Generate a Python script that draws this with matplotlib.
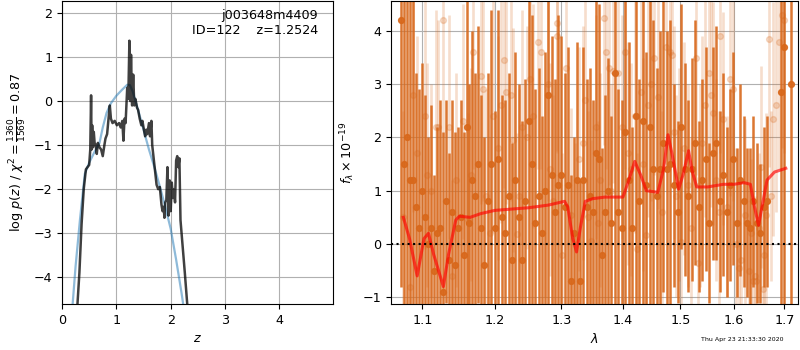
import numpy as np
import matplotlib
matplotlib.use('Agg')
import matplotlib.pyplot as plt

plt.rcParams['font.size'] = 9.2

# p(z) curves
z_pz = [0.28, 0.32, 0.36, 0.40, 0.44, 0.47, 0.50, 0.52, 0.535, 0.545, 0.555, 0.57, 0.585,
        0.60, 0.62, 0.64, 0.66, 0.69, 0.72, 0.75, 0.78, 0.80, 0.83, 0.86, 0.88, 0.90,
        0.93, 0.97, 1.01, 1.05, 1.08, 1.11, 1.13, 1.15, 1.17, 1.20, 1.22, 1.24, 1.255,
        1.27, 1.29, 1.31, 1.33, 1.35, 1.38, 1.40, 1.43, 1.46, 1.48, 1.50, 1.53, 1.55,
        1.57, 1.60, 1.62, 1.645, 1.66, 1.70, 1.74, 1.77, 1.80, 1.83, 1.85, 1.87, 1.885,
        1.90, 1.92, 1.94, 1.96, 1.98, 2.00, 2.02, 2.04, 2.06, 2.08, 2.10, 2.12, 2.14,
        2.16, 2.18, 2.22, 2.26, 2.31]
logp = [-4.7, -3.9, -2.8, -2.0, -1.55, -1.5, -1.45, -1.1, 0.13, -1.1, -0.55, -1.05, -0.7,
        -0.95, -1.0, -1.2, -0.95, -1.05, -1.1, -1.25, -1.0, -0.85, -0.75, -0.35, -0.1, -0.4,
        -0.5, -0.45, -0.55, -0.5, -0.6, -0.45, -0.9, -0.4, -0.5, 0.3, 0.05, 1.37, 0.0,
        1.05, -0.1, 0.6, -0.1, 0.05, -0.15, -0.2, -0.4, -0.55, -0.45, -0.6, -0.8, -0.65,
        -0.75, -0.5, -0.8, -0.45, -1.0, -1.45, -1.9, -2.0, -1.95, -2.35, -2.5, -2.4, -2.65,
        -2.3, -2.25, -1.5, -2.6, -1.8, -2.5, -1.85, -2.2, -2.0, -2.3, -1.35, -1.25, -1.5,
        -1.3, -2.7, -3.3, -3.9, -4.7]
z_prior = [0.19, 0.25, 0.33, 0.42, 0.50, 0.60, 0.69, 0.75, 0.82, 0.90, 1.00, 1.10, 1.20,
           1.25, 1.30, 1.40, 1.50, 1.60, 1.70, 1.80, 1.90, 2.00, 2.10, 2.20, 2.24]
logp_prior = [-4.7, -3.75, -2.7, -1.65, -1.4, -1.15, -0.95, -0.6, -0.27, -0.05, 0.12, 0.25, 0.37,
              0.36, 0.22, -0.2, -0.65, -1.1, -1.5, -1.94, -2.4, -2.9, -3.6, -4.36, -4.7]

# spectrum, binned (dark) points
dark_wave = [1.072, 1.076, 1.080, 1.084, 1.088, 1.092, 1.096, 1.100, 1.104, 1.108,
             1.112, 1.116, 1.120, 1.124, 1.128, 1.132, 1.136, 1.140, 1.144, 1.148,
             1.152, 1.156, 1.160, 1.164, 1.168, 1.172, 1.176, 1.180, 1.185, 1.190,
             1.195, 1.200, 1.205, 1.210, 1.215, 1.220, 1.225, 1.230, 1.235, 1.240,
             1.245, 1.250, 1.255, 1.260, 1.265, 1.270, 1.275, 1.280, 1.285, 1.290,
             1.295, 1.300, 1.305, 1.310, 1.315, 1.320, 1.325, 1.330, 1.335, 1.340,
             1.345, 1.350, 1.355, 1.360, 1.365, 1.370, 1.375, 1.380, 1.386, 1.392,
             1.398, 1.404, 1.410, 1.416, 1.422, 1.428, 1.434, 1.440, 1.446, 1.452,
             1.458, 1.464, 1.470, 1.476, 1.482,
             1.488, 1.495, 1.501, 1.508, 1.514, 1.521, 1.527, 1.534, 1.540, 1.547,
             1.553, 1.560, 1.566, 1.573, 1.580, 1.586, 1.593, 1.599, 1.606, 1.612,
             1.619, 1.625, 1.632, 1.638, 1.645, 1.651, 1.658, 1.664,
             1.694, 1.700, 1.714]
dark_flux = [4.2, 1.5, 2.0, 1.2, 1.2, 0.7, 0.3, 1.0, 0.5, 0.0,
             0.3, -0.5, 0.2, 0.3, -0.9, 0.8, -0.3, 0.6, -0.4, 0.3,
             0.5, -0.2, 2.2, 0.4, 1.2, 0.9, 1.5, 0.3, -0.4, 0.8,
             1.5, 0.3, 1.6, 0.5, 0.2, 0.9, -0.3, 1.2, 0.5, -0.3,
             0.8, 2.3, 1.5, 0.4, 0.9, 0.2, 1.0, 2.8, 1.3, 0.6,
             1.1, 1.3, 0.7, 1.1, -0.7, 0.2, 1.2, -0.7, 1.2, 0.7,
             0.9, 0.6, 1.7, 1.6, -0.2, 0.6, 1.0, 0.4, 3.2, 0.6,
             0.3, 2.1, 1.2, 0.3, 2.4, 0.8, 2.3, 1.1, 2.2, 1.4,
             0.9, 1.4, 1.9, 1.4, 1.5,
             1.1, 0.6, 2.2, 1.4, 0.9, 1.4, 1.9, 0.7, 1.2, 1.6,
             0.4, 1.7, 1.9, 0.8, 1.3, 0.6, 1.1, 1.6, 0.4, 1.2,
             0.8, 0.4, 0.3, 0.8, 0.4, 0.2, 0.7, 0.8,
             2.85, 3.7, 3.0]
dark_err = [5.0, 5.0, 5.0, 5.0, 3.5, 2.5, 2.6, 2.4, 2.3, 2.0,
            2.3, 1.8, 2.0, 2.4, 3.0, 1.9, 2.0, 2.1, 2.5, 1.9,
            2.2, 2.3, 3.5, 2.6, 2.8, 2.3, 2.6, 2.5, 2.4, 2.4,
            2.9, 2.2, 2.8, 2.3, 2.5, 2.3, 2.2, 2.4, 2.5, 2.6,
            2.3, 3.6, 2.8, 2.5, 2.4, 2.2, 2.6, 4.0, 2.6, 2.5,
            3.2, 2.6, 2.5, 2.6, 2.0, 1.8, 2.6, 1.9, 2.5, 2.4,
            2.4, 2.1, 3.0, 2.9, 2.0, 2.2, 2.5, 2.0, 4.6, 2.3,
            2.4, 3.3, 2.6, 1.9, 3.6, 2.3, 3.6, 2.5, 3.5, 2.8,
            2.4, 2.6, 2.8, 2.6, 2.7,
            1.9, 1.7, 2.3, 2.0, 1.8, 2.1, 2.3, 1.6, 1.9, 2.1,
            1.5, 2.0, 2.2, 1.7, 1.9, 1.6, 1.8, 2.0, 1.4, 1.8,
            1.6, 1.4, 1.5, 1.6, 1.5, 1.3, 1.5, 1.6,
            6.0, 6.0, 6.0]

# spectrum, unbinned (light) points
light_wave = [1.083, 1.093, 1.103, 1.106, 1.118, 1.121, 1.127, 1.135, 1.145, 1.155,
              1.162, 1.169, 1.180, 1.183, 1.188, 1.198, 1.204, 1.214, 1.217, 1.223,
              1.227, 1.232, 1.240, 1.252, 1.257, 1.264, 1.269, 1.274, 1.282, 1.293,
              1.294, 1.301, 1.315, 1.328, 1.334, 1.342, 1.347, 1.355, 1.362, 1.368,
              1.372, 1.376, 1.384, 1.391, 1.398, 1.403, 1.414, 1.424, 1.431, 1.440,
              1.443, 1.453, 1.460, 1.475, 1.481, 1.485, 1.493, 1.501, 1.507, 1.514,
              1.529, 1.533, 1.536, 1.545, 1.553, 1.561, 1.571, 1.574, 1.580, 1.593,
              1.599, 1.604, 1.609, 1.622, 1.629, 1.637, 1.644, 1.652, 1.656, 1.662,
              1.668, 1.677, 1.689, 1.695, 1.700,
              1.075, 1.088, 1.112, 1.140, 1.166, 1.193, 1.209, 1.236, 1.247, 1.279,
              1.287, 1.308, 1.321, 1.338, 1.358, 1.380, 1.408, 1.420, 1.435, 1.448,
              1.467, 1.489, 1.497, 1.519, 1.540, 1.557, 1.566, 1.586, 1.614, 1.633,
              1.641, 1.648, 1.659, 1.673, 1.683]
light_flux = [-0.8, 1.7, 2.4, 1.3, 2.2, 2.2, 4.2, 2.2, 1.2, 2.3,
              0.45, 3.6, 3.15, 2.9, 0.9, 2.4, 1.8, 3.45, 2.85, 2.8,
              1.95, 0.18, 2.2, 3.1, 2.4, 3.8, 3.6, 1.0, 1.4, 4.15,
              3.9, -0.2, 0.55, 1.6, 1.9, 0.5, 0.05, 2.2, 1.2, 4.25,
              3.6, 3.3, 3.25, 3.2, 2.2, 3.6, 1.4, -0.1, 2.85, 0.17,
              2.6, 3.5, 2.75, 3.7, 3.6, 3.55, 0.9, 0.03, 1.8, 1.1,
              3.5, -0.35, 1.1, 2.6, 3.2, 2.45, 0.6, 3.9, 2.35, 3.1,
              2.9, 0.0, -0.45, 0.55, -0.5, -0.7, -0.7, 1.45, -0.85, 0.55,
              3.85, 2.35, 3.8, 4.3, 4.2,
              0.5, 2.8, 1.0, -0.6, 1.3, 0.2, 2.6, 0.9, 2.0, 3.0,
              0.8, 3.3, 0.1, 2.7, 0.4, 1.0, 1.7, 2.4, 1.5, 3.0,
              0.6, 2.1, 1.3, 0.3, 1.9, 2.8, 1.2, 0.7, -0.3, 0.2,
              -0.6, 0.3, -0.2, 0.9, 2.6]
light_err = [2.0, 2.2, 2.5, 2.1, 2.2, 2.0, 2.2, 2.1, 2.0, 2.2,
             2.0, 2.2, 2.4, 2.1, 2.0, 2.2, 2.1, 2.4, 2.1, 2.0,
             2.1, 1.9, 2.2, 2.4, 2.1, 2.4, 2.2, 2.0, 2.0, 2.4,
             2.2, 1.9, 2.0, 2.1, 2.2, 2.0, 1.9, 2.1, 2.0, 2.4,
             2.2, 2.2, 2.1, 2.2, 2.1, 2.2, 2.0, 1.8, 2.1, 1.8,
             2.1, 2.2, 2.1, 2.2, 2.2, 2.1, 1.9, 1.8, 2.0, 1.9,
             2.2, 1.6, 1.9, 2.1, 2.2, 2.1, 1.9, 2.2, 2.0, 2.2,
             2.1, 1.8, 1.6, 1.8, 1.6, 1.6, 1.6, 1.9, 1.6, 1.9,
             2.4, 2.2, 2.4, 2.5, 2.5,
             2.0, 2.2, 2.0, 1.8, 2.0, 1.8, 2.2, 2.0, 2.1, 2.2,
             2.0, 2.3, 1.8, 2.2, 1.9, 2.0, 2.1, 2.2, 2.0, 2.2,
             1.9, 2.0, 2.0, 1.7, 2.0, 2.1, 1.9, 1.7, 1.4, 1.4,
             1.3, 1.4, 1.3, 1.6, 2.0]

# best-fit model
model_wave = [1.075, 1.083, 1.093, 1.102, 1.108, 1.115, 1.128, 1.135, 1.145, 1.150,
              1.165, 1.180, 1.200, 1.250, 1.280, 1.305, 1.310, 1.318, 1.324, 1.330,
              1.338, 1.350, 1.370, 1.400, 1.410, 1.420, 1.430, 1.440, 1.460, 1.470,
              1.478, 1.485, 1.497, 1.505, 1.515, 1.522, 1.530, 1.550, 1.580, 1.600,
              1.620, 1.632, 1.640, 1.648, 1.655, 1.665, 1.680, 1.703]
model_flux = [0.5, 0.1, -0.6, 0.1, 0.2, -0.2, -0.8, -0.2, 0.45, 0.52,
              0.5, 0.57, 0.63, 0.68, 0.73, 0.8, 0.7, 0.1, -0.15, 0.3,
              0.8, 0.85, 0.88, 0.88, 1.2, 1.55, 1.3, 1.0, 0.97, 1.4,
              2.05, 1.7, 1.03, 1.3, 1.75, 1.35, 1.07, 1.07, 1.12, 1.12,
              1.15, 1.12, 0.7, 0.35, 0.7, 1.2, 1.35, 1.42]

fig = plt.figure(figsize=(8, 3.5), dpi=100)
ax = fig.add_axes([0.0775, 0.131, 0.339, 0.866])
ax.plot(z_prior, logp_prior, color='tab:blue', alpha=0.5, lw=1.6)
ax.plot(z_pz, logp, color='k', alpha=0.75, lw=1.8)
ax.set_xlim(0, 4.99)
ax.set_ylim(-4.61, 2.27)
ax.grid()
ax.set_xlabel('$z$')
ax.set_ylabel(r'$\log\,p(z)$ / $\chi^2=\frac{1360}{1569}=0.87$')
ax.text(0.945, 0.975, 'j003648m4409\nID=122    z=1.2524', ha='right', va='top',
        transform=ax.transAxes)

col = '#d8681b'
ax2 = fig.add_axes([0.489, 0.131, 0.509, 0.866])
ax2.errorbar(light_wave, light_flux, light_err, marker='o', ms=4.2, color=col,
             alpha=0.22, linestyle='None', elinewidth=1.9)
ax2.errorbar(dark_wave, dark_flux, dark_err, marker='o', ms=4.2, color=col,
             alpha=0.9, linestyle='None', elinewidth=1.8)
ax2.plot(model_wave, model_flux, color='r', alpha=0.65, lw=2.2, zorder=10)
ax2.axhline(0, color='k', linestyle=':', lw=1.5, zorder=11)
ax2.set_xscale('log')
ax2.set_xlim(1.0594, 1.729)
ax2.set_ylim(-1.13, 4.56)
ticks = [1.1, 1.2, 1.3, 1.4, 1.5, 1.6, 1.7]
ax2.set_xticks(ticks)
ax2.set_xticklabels(['%.1f' % t for t in ticks])
ax2.xaxis.set_minor_locator(matplotlib.ticker.NullLocator())
ax2.grid()
ax2.set_xlabel(r'$\lambda$')
ax2.set_ylabel(r'$f_\lambda\times 10^{-19}$')

fig.text(0.9275, 0.031, 'Thu Apr 23 21:33:30 2020', ha='center', va='center', fontsize=4.5)

fig.savefig('out.png', dpi=100)
